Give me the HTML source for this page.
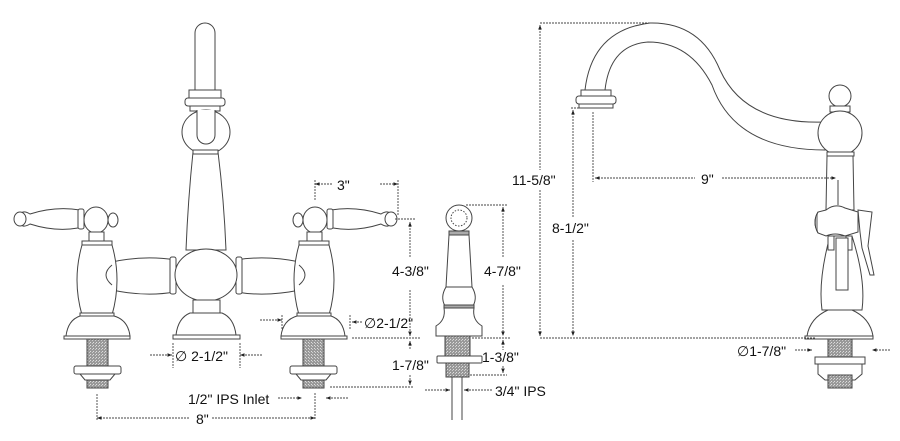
<!DOCTYPE html>
<html><head><meta charset="utf-8"><style>
html,body{margin:0;padding:0;background:#fff}
svg{display:block}
text{font-family:"Liberation Sans",sans-serif;font-size:14px;fill:#111}
</style></head><body>
<svg width="900" height="441" viewBox="0 0 900 441" xmlns="http://www.w3.org/2000/svg">
<defs>
<pattern id="th" width="3" height="3" patternUnits="userSpaceOnUse"><rect width="3" height="3" fill="#999"/><rect width="1" height="1" fill="#ddd"/><rect x="2" y="1" width="1" height="1" fill="#ccc"/></pattern>
<marker id="a" viewBox="0 0 10 10" refX="10" refY="5" markerWidth="7" markerHeight="5" orient="auto-start-reverse"><path d="M0,1L10,5L0,9z" fill="#222"/></marker>
</defs>
<g fill="#fff" stroke="#444" stroke-width="1">
<path d="M195,90V33a10,10 0 0 1 20,0V90z"/>
<rect x="189" y="90" width="32" height="8"/>
<rect x="185" y="98" width="40" height="8" rx="3"/>
<rect x="190" y="106" width="30" height="5"/>
<ellipse cx="206" cy="132" rx="24" ry="22"/>
<path d="M197,110V135a9,9 0 0 0 18,0V110"/>
<path d="M193,152Q188,200 186,250H226Q224,200 218,152z"/>
<rect x="193" y="150" width="25" height="4"/>
<path d="M112,262Q145,255 175,260V292Q145,297 112,290z"/>
<path d="M236,260Q266,255 300,262V290Q266,297 236,292z"/>
<rect x="170" y="257" width="6" height="37" rx="2"/>
<rect x="236" y="257" width="6" height="37" rx="2"/>
<ellipse cx="206" cy="275" rx="31" ry="26"/>
<rect x="193" y="300" width="27" height="13"/>
<path d="M190,313Q178,318 176,335H236Q234,318 222,313z"/>
<rect x="173" y="335" width="67" height="4"/>
<g id="valve">
<path d="M30,214Q20,208 20,219Q20,230 30,224Q55,232 78,228L80,210Q55,206 30,214z"/>
<ellipse cx="20" cy="219" rx="6" ry="7"/>
<rect x="78" y="209" width="6" height="20" rx="2"/>
<ellipse cx="96" cy="220" rx="12" ry="13"/>
<ellipse cx="113" cy="220" rx="5" ry="7"/>
<rect x="89" y="232" width="15" height="9"/>
<rect x="82" y="241" width="30" height="4"/>
<path d="M82,245Q72,280 82,315H112Q122,280 112,245z"/>
<path d="M112,265Q100,275 112,285"/>
<rect x="80" y="313" width="34" height="3"/>
<path d="M80,316Q68,320 66,336H130Q128,320 114,316z"/>
<rect x="64" y="336" width="66" height="3"/>
<rect x="87" y="339" width="21" height="27" fill="url(#th)"/>
<rect x="74" y="366" width="47" height="8" rx="2"/>
<path d="M80,374H115L110,380H85z"/>
<rect x="87" y="380" width="21" height="8" fill="url(#th)"/>
</g>
<use href="#valve" transform="translate(411,0) scale(-1,1)"/>
<circle cx="459" cy="218" r="13"/>
<circle cx="459" cy="218" r="8" stroke-dasharray="1.5 1.5"/>
<rect x="449" y="231" width="20" height="4" fill="#aaa"/>
<path d="M449,235L446,287H472L469,235z"/>
<path d="M446,287Q440,297 445,306H473Q478,297 472,287z"/>
<rect x="444" y="305" width="30" height="3" fill="#aaa"/>
<path d="M444,308Q446,320 436,326V336H482V326Q472,320 474,308z"/>
<rect x="445" y="336" width="25" height="20" fill="url(#th)"/>
<rect x="437" y="356" width="45" height="7" rx="1"/>
<rect x="446" y="363" width="23" height="14" fill="url(#th)"/>
<path d="M452,377V420M462,377V420"/>
<path d="M585,90Q592,30 650,23Q700,22 720,70Q745,125 825,122V150Q735,150 712,85Q690,42 648,42Q610,45 605,90z"/>
<rect x="581" y="90" width="30" height="6"/>
<rect x="576" y="96" width="40" height="8" rx="3"/>
<rect x="579" y="104" width="34" height="4"/>
<circle cx="840" cy="96" r="11"/>
<rect x="830" y="106" width="20" height="6"/>
<ellipse cx="840" cy="133" rx="22" ry="22"/>
<rect x="827" y="152" width="27" height="4"/>
<path d="M827,156L826,210H854L853,156z"/>
<path d="M838,180V205"/>
<path d="M818,212Q812,222 818,233L826,236Q835,232 845,236L858,232V212L845,208Q835,203 826,210z"/>
<path d="M818,212Q812,222 818,233" fill="#aaa"/>
<path d="M858,210L872,212L868,246L874,275H870L862,248L860,232z"/>
<path d="M830,236Q818,280 822,310H862Q866,280 852,236z"/>
<path d="M828,236H834V250H828zM846,236H852V250H846z"/>
<path d="M836,238L836,290H848V238z"/>
<path d="M828,310Q810,318 807,336H873Q870,318 852,310z"/>
<rect x="805" y="336" width="68" height="3"/>
<rect x="828" y="339" width="24" height="18" fill="url(#th)"/>
<rect x="815" y="357" width="50" height="7"/>
<path d="M818,364H862V374L855,380H825L818,374z"/>
<rect x="828" y="375" width="24" height="13" fill="url(#th)"/>
</g>
<g stroke="#444" stroke-width="0.9" fill="none" stroke-dasharray="2 1">
<path d="M315,200V180M398,215V180"/>
<path d="M315,184H332M380,184H398" marker-start="url(#a)" marker-end="url(#a)"/>
<path d="M395,219H415M352,338H420M330,387H414"/>
<path d="M410,222V258M410,290V336" marker-start="url(#a)" marker-end="url(#a)"/>
<path d="M410,341V350M410,375V385" marker-start="url(#a)" marker-end="url(#a)"/>
<path d="M260,320H282" marker-end="url(#a)"/>
<path d="M362,322H352" marker-end="url(#a)"/>
<path d="M282,315V330M350,315V330"/>
<path d="M150,355H172" marker-end="url(#a)"/>
<path d="M262,355H240" marker-end="url(#a)"/>
<path d="M173,343V368M240,343V368"/>
<path d="M278,398H302" marker-end="url(#a)"/>
<path d="M348,398H326" marker-end="url(#a)"/>
<path d="M97,394V420M315,393V420"/>
<path d="M97,418H190M212,418H315" marker-start="url(#a)" marker-end="url(#a)"/>
<path d="M466,205H507M472,338H510M470,375H507"/>
<path d="M503,207V258M503,285V336" marker-start="url(#a)" marker-end="url(#a)"/>
<path d="M503,340V350M503,366V373" marker-start="url(#a)" marker-end="url(#a)"/>
<path d="M425,390H450" marker-end="url(#a)"/>
<path d="M492,390H464" marker-end="url(#a)"/>
<path d="M540,23H650M540,338H815M571,108H598"/>
<path d="M540,25V170M540,190V336" marker-start="url(#a)" marker-end="url(#a)"/>
<path d="M573,110V218M573,240V336" marker-start="url(#a)" marker-end="url(#a)"/>
<path d="M593,112V182"/>
<path d="M595,178H695M722,178H836" marker-start="url(#a)" marker-end="url(#a)"/>
<path d="M795,350H812" marker-end="url(#a)"/>
<path d="M890,350H872" marker-end="url(#a)"/>
</g>
<text x="337" y="190">3"</text>
<text x="392" y="276">4-3/8"</text>
<text x="364" y="328">∅2-1/2"</text>
<text x="392" y="370">1-7/8"</text>
<text x="175" y="361">∅ 2-1/2"</text>
<text x="188" y="404">1/2" IPS Inlet</text>
<text x="196" y="424">8"</text>
<text x="484" y="276">4-7/8"</text>
<text x="482" y="362">1-3/8"</text>
<text x="495" y="396">3/4" IPS</text>
<text x="512" y="185">11-5/8"</text>
<text x="552" y="233">8-1/2"</text>
<text x="701" y="184">9"</text>
<text x="737" y="356">∅1-7/8"</text>
</svg>
</body></html>
